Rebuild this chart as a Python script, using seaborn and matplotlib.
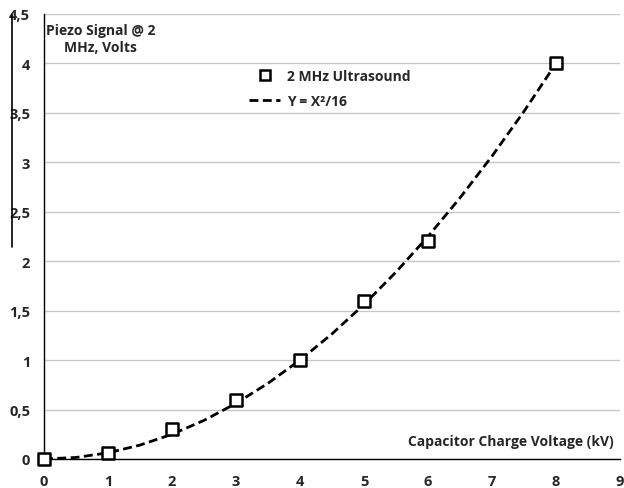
import matplotlib
matplotlib.use("Agg")
import matplotlib.pyplot as plt
import seaborn as sns
import pandas as pd
from matplotlib.lines import Line2D

# Measured data
voltage_kv = [0, 1, 2, 3, 4, 5, 6, 8]
signal_v = [0.0, 0.06, 0.3, 0.6, 1.0, 1.6, 2.2, 4.0]

# Fitted curve Y = X^2/16
curve_x = [0, 0.5, 1, 1.5, 2, 2.5, 3, 3.5, 4, 4.5, 5, 5.5, 6, 6.5, 7, 7.5, 8]
curve_y = [0.0, 0.0156, 0.0625, 0.1406, 0.25, 0.3906, 0.5625, 0.7656, 1.0,
           1.2656, 1.5625, 1.8906, 2.25, 2.6406, 3.0625, 3.5156, 4.0]

x_ticks = [0, 1, 2, 3, 4, 5, 6, 7, 8, 9]
y_ticks = [0, 0.5, 1, 1.5, 2, 2.5, 3, 3.5, 4, 4.5]
y_tick_labels = ["0", "0,5", "1", "1,5", "2", "2,5", "3", "3,5", "4", "4,5"]

sns.set_style("white")
plt.rcParams["font.family"] = ["Open Sans", "DejaVu Sans"]

FS = 10

fig = plt.figure(figsize=(6.24, 4.89), dpi=100)
ax = fig.add_axes([44 / 624, (489 - 460) / 489, (620 - 44) / 624, (460 - 15) / 489])

df_pts = pd.DataFrame({"x": voltage_kv, "y": signal_v})
df_curve = pd.DataFrame({"x": curve_x, "y": curve_y})

sns.lineplot(data=df_curve, x="x", y="y", ax=ax, color="black", linewidth=2,
             linestyle=(0, (3.2, 1.6)), zorder=3)
sns.scatterplot(data=df_pts, x="x", y="y", ax=ax, marker="s", s=80,
                facecolor="white", edgecolor="black", linewidth=1.8, zorder=4)
for coll in ax.collections:
    coll.set_clip_on(False)

ax.set_xlim(0, 9)
ax.set_ylim(0, 4.5)
ax.set_xticks(x_ticks)
ax.set_xticklabels([str(t) for t in x_ticks], fontweight="bold", fontsize=FS + 0.5)
ax.set_yticks(y_ticks)
ax.set_yticklabels(y_tick_labels, fontweight="bold", fontsize=FS + 0.5)
ax.set_xlabel("")
ax.set_ylabel("")
ax.yaxis.grid(True, color="#c8c8c8", linewidth=1)
ax.xaxis.grid(False)
ax.set_axisbelow(True)

for s in ["top", "right"]:
    ax.spines[s].set_visible(False)
for s in ["left", "bottom"]:
    ax.spines[s].set_color("black")
    ax.spines[s].set_linewidth(1)

ax.tick_params(axis="x", direction="out", length=5, width=1, color="black", pad=6)
ax.tick_params(axis="y", direction="out", length=5, width=1, color="black", pad=5)

ax.text(0.88, 4.25, "Piezo Signal @ 2\nMHz, Volts", fontsize=FS, fontweight="bold",
        ha="center", va="center", linespacing=1.3)
ax.text(8.9, 0.18, "Capacitor Charge Voltage (kV)", fontsize=FS, fontweight="bold",
        ha="right", va="center")

handles = [
    Line2D([], [], marker="s", linestyle="none", markersize=7.5,
           markerfacecolor="white", markeredgecolor="black", markeredgewidth=1.8),
    Line2D([], [], color="black", linewidth=2, linestyle=(0, (3.2, 1.6))),
]
ax.legend(handles, ["2 MHz Ultrasound", "Y = X\u00b2/16"], loc="upper left",
          bbox_to_anchor=(0.335, 0.905), frameon=False, prop={"weight": "bold", "size": FS},
          handlelength=2.2, labelspacing=0.8, handletextpad=0.5)

fig.add_artist(Line2D([12 / 624, 12 / 624], [1 - 15 / 489, 1 - 248 / 489],
                      color="black", linewidth=1.2))

fig.savefig("out.png", dpi=100)
